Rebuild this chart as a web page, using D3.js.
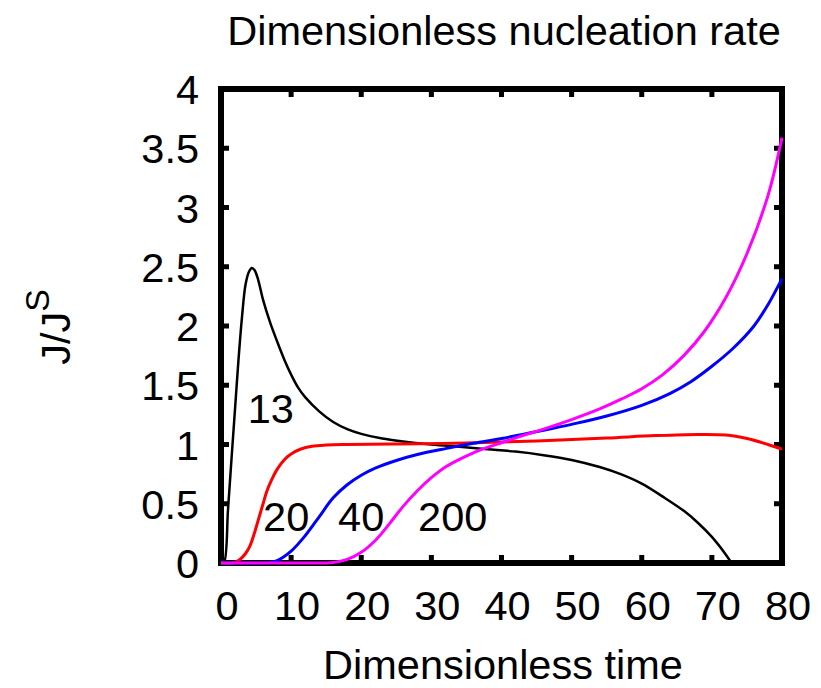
<!DOCTYPE html>
<html>
<head>
<meta charset="utf-8">
<script src="https://cdn.jsdelivr.net/npm/d3@7"></script>
<style>
  body { margin: 0; background: #fff; }
  text { font-family: "Liberation Sans", Arial, Helvetica, sans-serif; fill: #000; }
</style>
</head>
<body>
<div id="chart"></div>
<script>
// values: [time, J/J^S]
const curve13 = [[0,0],[0.4,0],[1,0.45],[1.5,0.88],[2,1.3],[2.5,1.72],[3,2.08],[3.5,2.35],[4,2.46],[4.4,2.49],[4.8,2.47],
  [5.3,2.39],[6,2.22],[7,2.03],[8,1.87],[9,1.72],[10,1.59],[11,1.48],[12,1.4],[14,1.28],[16,1.19],[18,1.13],
  [20,1.09],[23,1.05],[26,1.025],[30,1.0],[34,0.98],[38,0.96],[42,0.94],[46,0.91],[50,0.87],[54,0.81],[57,0.75],
  [60,0.67],[63,0.56],[66,0.44],[68,0.34],[70,0.22],[72,0.07],[72.8,0]];
const curve20 = [[0,0],[1.8,0],[2.7,0.03],[3.5,0.08],[4.1,0.14],[4.7,0.24],[5.3,0.36],[6,0.5],[6.5,0.6],[7.2,0.7],
  [8,0.79],[9,0.87],[10,0.92],[11.3,0.96],[13,0.985],[15,0.995],[18,1.0],[25,1.005],[35,1.012],[45,1.03],
  [55,1.055],[62,1.075],[68,1.085],[72,1.08],[75,1.05],[78,1.0],[80,0.96]];
const curve40 = [[0,0],[5,0],[7,0.005],[8,0.02],[10,0.1],[12,0.23],[14,0.39],[16,0.55],[18,0.66],[20,0.74],[22,0.8],
  [25,0.865],[28,0.915],[32,0.965],[36,1.01],[40,1.05],[43,1.085],[46,1.12],[50,1.17],[55,1.24],[60,1.33],
  [64,1.43],[67,1.53],[70,1.66],[73,1.81],[76,2.0],[78,2.18],[80,2.4]];
const curve200 = [[0,0],[13,0],[16,0.005],[18,0.03],[20,0.09],[22,0.19],[24,0.33],[26,0.48],[28,0.61],[30,0.72],
  [32,0.81],[34,0.875],[36,0.93],[38,0.975],[40,1.015],[43,1.075],[46,1.13],[50,1.21],[54,1.3],[57,1.38],
  [60,1.47],[63,1.59],[66,1.75],[69,1.96],[72,2.24],[75,2.61],[78,3.1],[80,3.59]];

const xTicks = [0, 10, 20, 30, 40, 50, 60, 70, 80];
const yTicks = [0, 0.5, 1, 1.5, 2, 2.5, 3, 3.5, 4];

const series = [
  { name: '13', values: curve13, color: '#000000', width: 2.5 },
  { name: '20', values: curve20, color: '#ff0000', width: 3 },
  { name: '40', values: curve40, color: '#0000ff', width: 3 },
  { name: '200', values: curve200, color: '#ff00ff', width: 3 }
];

// curve labels, in data coordinates
const curveLabels = [
  { text: '13', t: 3.8, j: 1.18 },
  { text: '20', t: 6.0, j: 0.27 },
  { text: '40', t: 16.7, j: 0.27 },
  { text: '200', t: 28.1, j: 0.27 }
];

const width = 821;
const height = 688;
const plotLeft = 221, plotRight = 782, plotTop = 89, plotBottom = 563;

const svg = d3.select('#chart')
  .append('svg')
  .attr('width', width)
  .attr('height', height);

const x = d3.scaleLinear().domain([0, 80]).range([plotLeft, plotRight]);
const y = d3.scaleLinear().domain([0, 4]).range([plotBottom, plotTop]);

// frame and inward ticks on all four sides (drawn first, curves go on top)
const tickLen = 8;
const ticks = svg.append('g').attr('stroke', '#000').attr('stroke-width', 5);
xTicks.slice(1, -1).forEach(v => {
  ticks.append('line').attr('x1', x(v)).attr('x2', x(v)).attr('y1', plotBottom).attr('y2', plotBottom - tickLen);
  ticks.append('line').attr('x1', x(v)).attr('x2', x(v)).attr('y1', plotTop).attr('y2', plotTop + tickLen);
});
yTicks.slice(1, -1).forEach(v => {
  ticks.append('line').attr('x1', plotLeft).attr('x2', plotLeft + tickLen).attr('y1', y(v)).attr('y2', y(v));
  ticks.append('line').attr('x1', plotRight).attr('x2', plotRight - tickLen).attr('y1', y(v)).attr('y2', y(v));
});

svg.append('rect')
  .attr('x', plotLeft).attr('y', plotTop)
  .attr('width', plotRight - plotLeft).attr('height', plotBottom - plotTop)
  .attr('fill', 'none')
  .attr('stroke', '#000')
  .attr('stroke-width', 6)
  .attr('stroke-linejoin', 'miter');

svg.append('clipPath').attr('id', 'clip')
  .append('rect')
  .attr('x', plotLeft - 3).attr('y', plotTop - 3)
  .attr('width', plotRight - plotLeft + 6).attr('height', plotBottom - plotTop + 6);

const line = d3.line()
  .x(d => x(d[0]))
  .y(d => y(d[1]))
  .curve(d3.curveCatmullRom.alpha(0.5));

svg.append('g')
  .attr('clip-path', 'url(#clip)')
  .selectAll('path')
  .data(series)
  .join('path')
  .attr('fill', 'none')
  .attr('stroke', d => d.color)
  .attr('stroke-width', d => d.width)
  .attr('stroke-linejoin', 'round')
  .attr('d', d => line(d.values));

const fontSize = 41.5;

svg.append('g')
  .selectAll('text')
  .data(xTicks)
  .join('text')
  .attr('x', d => x(d) + 6)
  .attr('y', 620)
  .attr('text-anchor', 'middle')
  .attr('font-size', fontSize)
  .text(d => d);

svg.append('g')
  .selectAll('text')
  .data(yTicks)
  .join('text')
  .attr('x', 199)
  .attr('y', d => y(d) + 15)
  .attr('text-anchor', 'end')
  .attr('font-size', fontSize)
  .text(d => d);

svg.append('g')
  .selectAll('text')
  .data(curveLabels)
  .join('text')
  .attr('x', d => x(d.t))
  .attr('y', d => y(d.j))
  .attr('font-size', fontSize)
  .text(d => d.text);

svg.append('text')
  .attr('x', 504)
  .attr('y', 45)
  .attr('text-anchor', 'middle')
  .attr('font-size', fontSize)
  .text('Dimensionless nucleation rate');

svg.append('text')
  .attr('x', 503)
  .attr('y', 679)
  .attr('text-anchor', 'middle')
  .attr('font-size', fontSize)
  .text('Dimensionless time');

const yLabel = svg.append('text')
  .attr('transform', 'translate(70,327) rotate(-90)')
  .attr('text-anchor', 'middle')
  .attr('font-size', fontSize);
yLabel.append('tspan').text('J/J');
yLabel.append('tspan').attr('dy', -21).attr('font-size', 34).text('S');
</script>
</body>
</html>
